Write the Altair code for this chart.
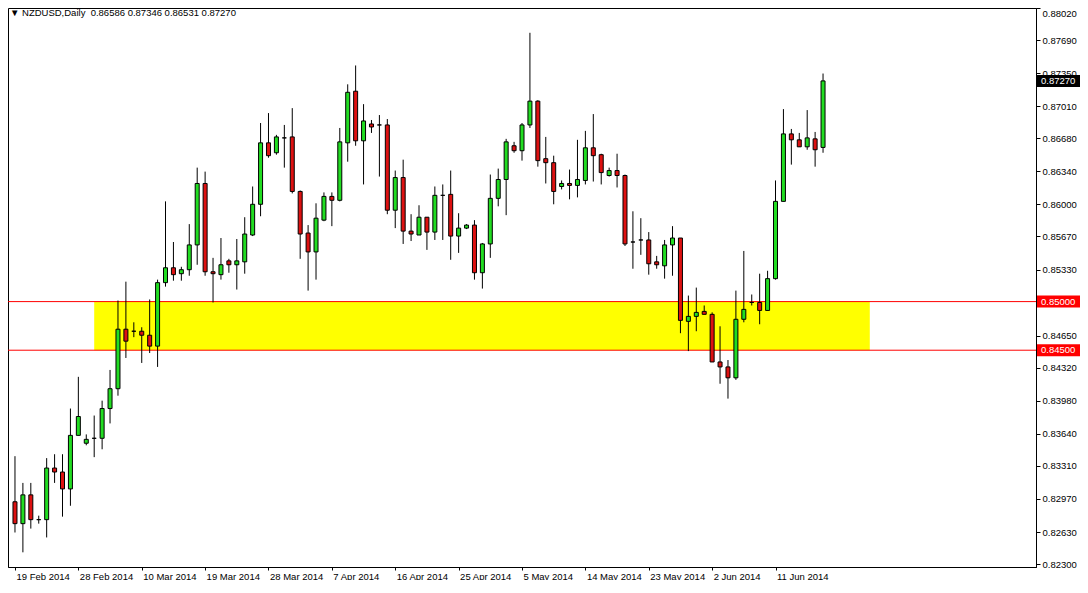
import altair as alt
import numpy as np
import pandas as pd

# ---- data (daily NZDUSD candles, Sunday bars included) ----
opens = [0.82941, 0.82716, 0.83012, 0.82757, 0.82757, 0.83288, 0.83247, 0.83073, 0.83624, 0.83543,
         0.83594, 0.83594, 0.83900, 0.84104, 0.84716, 0.84695, 0.84695, 0.84654, 0.84542, 0.85195,
         0.85348, 0.85287, 0.85328, 0.85583, 0.86215, 0.85307, 0.85277, 0.85419, 0.85379, 0.85409,
         0.85685, 0.86001, 0.86633, 0.86531, 0.86684, 0.86694, 0.86133, 0.85705, 0.85511, 0.85838,
         0.86082, 0.86042, 0.86633, 0.87164, 0.86654, 0.86827, 0.86817, 0.86817, 0.85940, 0.86276,
         0.85725, 0.85685, 0.85868, 0.85715, 0.86093, 0.86103, 0.85674, 0.85756, 0.85787, 0.85297,
         0.85593, 0.86062, 0.86256, 0.86603, 0.86552, 0.86817, 0.87062, 0.86470, 0.86429, 0.86184,
         0.86215, 0.86195, 0.86246, 0.86582, 0.86511, 0.86297, 0.86348, 0.86297, 0.85613, 0.85634,
         0.85634, 0.85409, 0.85368, 0.85583, 0.85654, 0.84797, 0.84848, 0.84899, 0.84869, 0.84379,
         0.84328, 0.84216, 0.84818, 0.84991, 0.84991, 0.84909, 0.85236, 0.86031, 0.86725, 0.86664,
         0.86592, 0.86674, 0.86586]
highs = [0.83410, 0.83135, 0.83135, 0.82798, 0.83390, 0.83430, 0.83430, 0.83900, 0.84226, 0.83634,
         0.83828, 0.83981, 0.84297, 0.85011, 0.85205, 0.84787, 0.84736, 0.85022, 0.85226, 0.86031,
         0.85613, 0.85358, 0.85797, 0.86378, 0.86337, 0.85450, 0.85654, 0.85440, 0.85644, 0.85868,
         0.86184, 0.86837, 0.86939, 0.86715, 0.86817, 0.86990, 0.86143, 0.85787, 0.86011, 0.86123,
         0.86123, 0.86786, 0.87235, 0.87429, 0.87031, 0.86868, 0.86919, 0.86878, 0.86348, 0.86460,
         0.85899, 0.85991, 0.85868, 0.86184, 0.86205, 0.86348, 0.85909, 0.85797, 0.85838, 0.85603,
         0.86307, 0.86368, 0.86674, 0.86643, 0.86837, 0.87765, 0.87072, 0.86694, 0.86501, 0.86246,
         0.86358, 0.86664, 0.86756, 0.86929, 0.86521, 0.86378, 0.86521, 0.86307, 0.85929, 0.85858,
         0.85715, 0.85470, 0.85634, 0.85776, 0.85654, 0.85062, 0.85144, 0.84960, 0.84889, 0.84746,
         0.84399, 0.85113, 0.85521, 0.85073, 0.85287, 0.85317, 0.86246, 0.86980, 0.86776, 0.86735,
         0.86970, 0.86745, 0.87346]
lows = [0.82625, 0.82421, 0.82665, 0.82716, 0.82574, 0.83135, 0.82788, 0.82900, 0.83624, 0.83522,
        0.83400, 0.83481, 0.83747, 0.84032, 0.84420, 0.84634, 0.84369, 0.84471, 0.84328, 0.85154,
        0.85215, 0.85215, 0.85266, 0.85379, 0.85266, 0.84991, 0.85226, 0.85297, 0.85124, 0.85287,
        0.85674, 0.85878, 0.86480, 0.86511, 0.86378, 0.86113, 0.85440, 0.85113, 0.85226, 0.85827,
        0.85776, 0.86031, 0.86439, 0.86603, 0.86205, 0.86735, 0.86286, 0.85899, 0.85756, 0.85593,
        0.85623, 0.85685, 0.85532, 0.85634, 0.85634, 0.85430, 0.85501, 0.85746, 0.85226, 0.85134,
        0.85450, 0.85980, 0.85889, 0.86531, 0.86450, 0.86786, 0.86388, 0.86215, 0.86001, 0.86154,
        0.86052, 0.86072, 0.86205, 0.86235, 0.86205, 0.86286, 0.86174, 0.85572, 0.85338, 0.85481,
        0.85277, 0.85338, 0.85236, 0.85266, 0.84675, 0.84491, 0.84695, 0.84869, 0.84379, 0.84155,
        0.84002, 0.84195, 0.84787, 0.84960, 0.84767, 0.84909, 0.85226, 0.86031, 0.86409, 0.86592,
        0.86562, 0.86388, 0.86531]
closes = [0.82716, 0.83012, 0.82757, 0.82757, 0.83288, 0.83247, 0.83073, 0.83624, 0.83818, 0.83583,
          0.83594, 0.83900, 0.84104, 0.84716, 0.84593, 0.84695, 0.84654, 0.84542, 0.85195, 0.85348,
          0.85277, 0.85328, 0.85583, 0.86215, 0.85307, 0.85287, 0.85379, 0.85379, 0.85419, 0.85695,
          0.86001, 0.86633, 0.86501, 0.86694, 0.86684, 0.86133, 0.85695, 0.85511, 0.85858, 0.86082,
          0.86042, 0.86643, 0.87153, 0.86654, 0.86858, 0.86796, 0.86817, 0.85940, 0.86276, 0.85725,
          0.85695, 0.85868, 0.85715, 0.86093, 0.86093, 0.85674, 0.85756, 0.85787, 0.85297, 0.85593,
          0.86062, 0.86256, 0.86643, 0.86552, 0.86817, 0.87062, 0.86450, 0.86429, 0.86133, 0.86215,
          0.86195, 0.86256, 0.86582, 0.86501, 0.86327, 0.86348, 0.86297, 0.85593, 0.85613, 0.85634,
          0.85389, 0.85379, 0.85583, 0.85654, 0.84807, 0.84848, 0.84889, 0.84869, 0.84379, 0.84328,
          0.84216, 0.84818, 0.84920, 0.84991, 0.84909, 0.85236, 0.86031, 0.86725, 0.86664, 0.86592,
          0.86684, 0.86562, 0.87270]

date_labels = ["19 Feb 2014", "28 Feb 2014", "10 Mar 2014", "19 Mar 2014", "28 Mar 2014",
               "7 Apr 2014", "16 Apr 2014", "25 Apr 2014", "5 May 2014", "14 May 2014",
               "23 May 2014", "2 Jun 2014", "11 Jun 2014"]
bars_per_label = 8
price_ticks = [0.88020, 0.87690, 0.87350, 0.87010, 0.86680, 0.86340, 0.86000, 0.85670, 0.85330,
               0.84650, 0.84320, 0.83980, 0.83640, 0.83310, 0.82970, 0.82630, 0.82300]
level_prices = [0.85000, 0.84500]
zone_start, zone_end = 10, 107.9
symbol = "NZDUSD,Daily"

# ---- layout ----
W, H = 1028, 559
FONT = "Liberation Sans"
GREEN, RED = "#22dd22", "#dd1111"

n = len(opens)
df = pd.DataFrame({"i": np.arange(n), "open": opens, "high": highs, "low": lows, "close": closes})
df["dir"] = np.where(df["close"] >= df["open"], "up", "down")

label_expr = "[" + ",".join("'%s'" % s for s in date_labels) + "][round(datum.value/%d)]" % bars_per_label

x_axis = alt.Axis(values=list(range(0, bars_per_label * len(date_labels), bars_per_label)),
                  labelExpr=label_expr, title=None, orient="bottom", labelAlign="left",
                  labelBaseline="top", labelOffset=1, labelPadding=1, tickSize=3,
                  tickColor="black", domainColor="black", labelColor="black",
                  labelFont=FONT, labelFontSize=9.5, grid=False, labelOverlap=False)
y_axis = alt.Axis(orient="right", values=price_ticks, format=".5f", title=None,
                  labelAlign="left",
                  labelBaseline={"condition": {"test": "datum.value > 0.8801", "value": "top"},
                                 "value": "middle"},
                  tickSize=4, labelPadding=2, tickColor="black", domainColor="black",
                  labelColor="black", labelFont=FONT, labelFontSize=9.5, grid=False,
                  labelOverlap=False)

xs = alt.Scale(domain=[-0.25, W / 8 - 0.25], nice=False, zero=False)
ys = alt.Scale(domain=[0.8227, 0.8802], nice=False, zero=False)


def X(f):
    return alt.X(f, type="quantitative", scale=xs, axis=x_axis)


def Y(f):
    return alt.Y(f, type="quantitative", scale=ys, axis=y_axis)


zone_df = pd.DataFrame({"x1": [zone_start], "x2": [zone_end], "top": [level_prices[0]], "bot": [level_prices[1]]})
zone = alt.Chart(zone_df).mark_rect(color="#ffff00").encode(
    x=X("x1"), x2="x2", y=Y("top"), y2="bot")

levels_df = pd.DataFrame({"p": level_prices, "txt": ["%.5f" % p for p in level_prices]})
levels = alt.Chart(levels_df).mark_rule(color="#ff0000", strokeWidth=1).encode(y=Y("p"))

wicks = alt.Chart(df).mark_rule(color="black", strokeWidth=1).encode(
    x=X("i"), y=Y("low"), y2="high")

bodies = alt.Chart(df).mark_bar(size=4, stroke="black", strokeWidth=1).encode(
    x=X("i"), y=Y("open"), y2="close",
    color=alt.Color("dir:N", scale=alt.Scale(domain=["up", "down"], range=[GREEN, RED]), legend=None))

close_df = pd.DataFrame({"p": [closes[-1]], "txt": ["%.5f" % closes[-1]]})

level_boxes = alt.Chart(levels_df).mark_tick(orient="horizontal", size=43, thickness=12, opacity=1,
                                             color="#ff0000").encode(
    x=alt.value(W + 22.5), y=Y("p"))
close_box = alt.Chart(close_df).mark_tick(orient="horizontal", size=43, thickness=12, opacity=1,
                                          color="#000000").encode(
    x=alt.value(W + 22.5), y=Y("p"))
level_text = alt.Chart(levels_df).mark_text(align="left", baseline="middle", font=FONT, fontSize=9.5,
                                            color="white").encode(
    x=alt.value(W + 5), y=Y("p"), text="txt:N")
close_text = alt.Chart(close_df).mark_text(align="left", baseline="middle", font=FONT, fontSize=9.5,
                                           color="white").encode(
    x=alt.value(W + 5), y=Y("p"), text="txt:N")

header_df = pd.DataFrame({"t": ["\u25bc " + symbol + "\u00a0\u00a0" +
                                " ".join("%.5f" % v for v in (opens[-1], highs[-1], lows[-1], closes[-1]))]})
header = alt.Chart(header_df).mark_text(align="left", baseline="middle", font=FONT, fontSize=9.5,
                                        color="black").encode(
    x=alt.value(2), y=alt.value(5), text="t:N")

chart = alt.layer(zone, levels, wicks, bodies, level_boxes, close_box, level_text, close_text,
                  header).properties(
    width=W, height=H,
    autosize=alt.AutoSizeParams(type="none"),
    padding={"left": 0, "top": 0, "right": 44, "bottom": 13},
    background="white",
).configure_view(stroke="black", strokeWidth=1)

chart.save("out.html", embed_options={"renderer": "svg", "actions": False})
